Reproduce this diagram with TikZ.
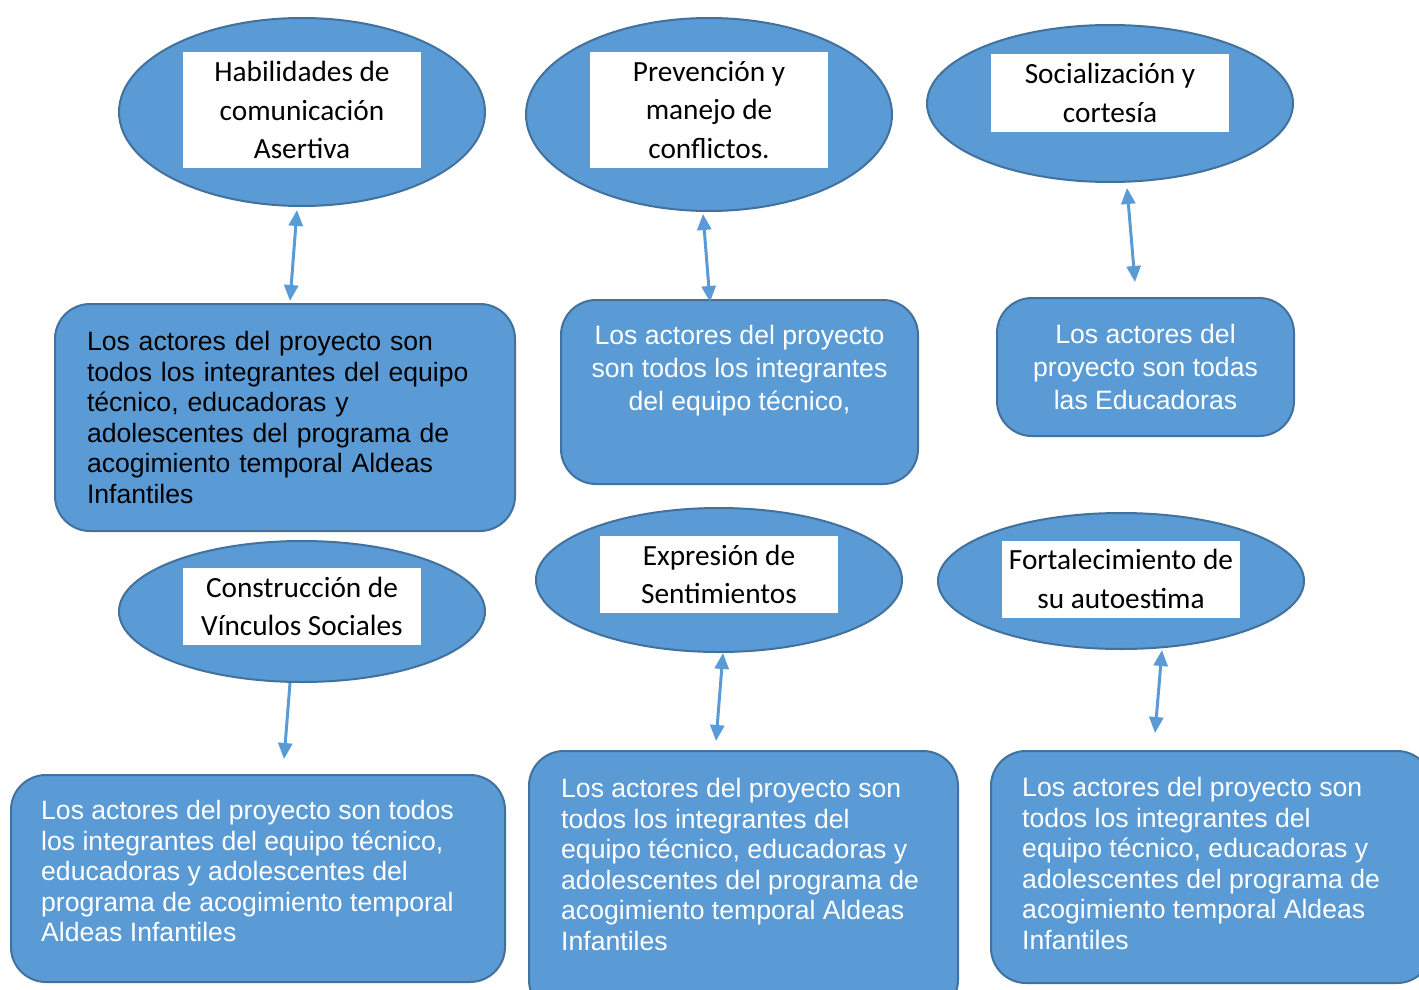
\documentclass[tikz,border=0pt]{standalone}
\usepackage{fontspec}
\usepackage{tikz}
\usetikzlibrary{arrows.meta, positioning, shapes.geometric}
\newfontfamily\ovalfont{Carlito}
\newfontfamily\cajafont{Liberation Sans}
\definecolor{azul}{HTML}{5B9BD5}
\definecolor{borde}{HTML}{41719C}

\begin{document}
\begin{tikzpicture}[
  x=1pt, y=-1pt,
  oval/.style={ellipse, draw=borde, fill=azul, line width=2pt, minimum width=366pt},
  etiq/.style={fill=white, minimum width=238pt, inner sep=0pt, align=center,
               font=\ovalfont\fontsize{29.3pt}{38.5pt}\selectfont},
  caja/.style={draw=borde, fill=azul, line width=2pt, rounded corners=35pt,
               text=white, inner sep=0pt},
  txt/.style={font=\cajafont\fontsize{26.6pt}{30.6pt}\selectfont},
  txtancho/.style={font=\cajafont\fontsize{26.6pt}{33pt}\selectfont},
  flecha/.style={{Triangle[length=16pt,width=14pt]}-{Triangle[length=16pt,width=14pt]},
                 line width=3pt, draw=azul}
]
  \useasboundingbox (0,0) rectangle (1419,990);

  % ovalos de arriba
  \node[oval, minimum height=188pt] (e1) at (302,112) {};
  \node[etiq, minimum height=116pt] (t1) at (302,110) {Habilidades de\\comunicación\\Asertiva};
  \node[oval, minimum height=193pt] (e2) at (709,114.5) {};
  \node[etiq, minimum height=116pt] (t2) at (709,110) {Prevención y\\manejo de\\conflictos.};
  \node[oval, minimum height=157pt] (e3) at (1110,103.5) {};
  \node[etiq, minimum height=77pt] (t3) at (1110,93) {Socialización y\\cortesía};

  % cajas de arriba
  \node[caja, txt, text=black, minimum width=460pt, minimum height=227pt,
        text width=396pt, align=left] (b1) at (285,417.5)
    {Los actores del proyecto son\\todos los integrantes del equipo\\técnico, educadoras y\\adolescentes del programa de\\acogimiento temporal Aldeas\\Infantiles};
  \node[caja, minimum width=357pt, minimum height=184pt] (b2) at (739.5,392) {};
  \node[txtancho, text=white, inner sep=0pt, align=center, below=26pt of b2.north] (b2t)
    {Los actores del proyecto\\son todos los integrantes\\del equipo técnico,};
  \node[caja, txtancho, minimum width=297pt, minimum height=138pt, align=center] (b3) at (1145.5,367)
    {Los actores del\\proyecto son todas\\las Educadoras};

  % ovalos de abajo
  \node[oval, minimum height=141pt] (e4) at (302,611.5) {};
  \node[etiq, minimum height=77pt] (t4) at (302,606.5) {Construcción de\\Vínculos Sociales};
  \node[oval, minimum height=144pt] (e5) at (719,580) {};
  \node[etiq, minimum height=77pt] (t5) at (719,574.5) {Expresión de\\Sentimientos};
  \node[oval, minimum height=136pt] (e6) at (1121,581) {};
  \node[etiq, minimum height=77pt] (t6) at (1121,579) {Fortalecimiento de\\su autoestima};

  % cajas de abajo
  \node[caja, minimum width=494pt, minimum height=207pt] (b4) at (258,878.5) {};
  \node[txt, text=white, inner sep=0pt, align=left, below right=26pt and 31pt of b4.north west] (b4t)
    {Los actores del proyecto son todos\\los integrantes del equipo técnico,\\educadoras y adolescentes del\\programa de acogimiento temporal\\Aldeas Infantiles};
  \node[caja, minimum width=429pt, minimum height=264pt] (b5) at (743.5,883) {};
  \node[txt, text=white, inner sep=0pt, align=left, below right=28pt and 33pt of b5.north west] (b5t)
    {Los actores del proyecto son\\todos los integrantes del\\equipo técnico, educadoras y\\adolescentes del programa de\\acogimiento temporal Aldeas\\Infantiles};
  \node[caja, minimum width=441pt, minimum height=232pt] (b6) at (1211.5,867) {};
  \node[txt, text=white, inner sep=0pt, align=left, below right=27pt and 32pt of b6.north west] (b6t)
    {Los actores del proyecto son\\todos los integrantes del\\equipo técnico, educadoras y\\adolescentes del programa de\\acogimiento temporal Aldeas\\Infantiles};

  % flechas
  \draw[flecha] ([shift={(-5,3)}]e1.south) -- ([shift={(5,-2)}]b1.north);
  \draw[flecha] ([shift={(-6,2)}]e2.south) -- ([shift={(-29.5,3)}]b2.north);
  \draw[flecha] ([shift={(17,5)}]e3.south) -- ([shift={(-10.5,-15)}]b3.north);
  \draw[flecha, {Triangle[length=16pt,width=14pt]}-] ([shift={(26,-15)}]b4.north) -- ([shift={(-12,0)}]e4.south);
  \draw[flecha] ([shift={(4,0)}]e5.south) -- ([shift={(-27.5,-9)}]b5.north);
  \draw[flecha] ([shift={(41,0)}]e6.south) -- ([shift={(-56.5,-17)}]b6.north);
\end{tikzpicture}
\end{document}
